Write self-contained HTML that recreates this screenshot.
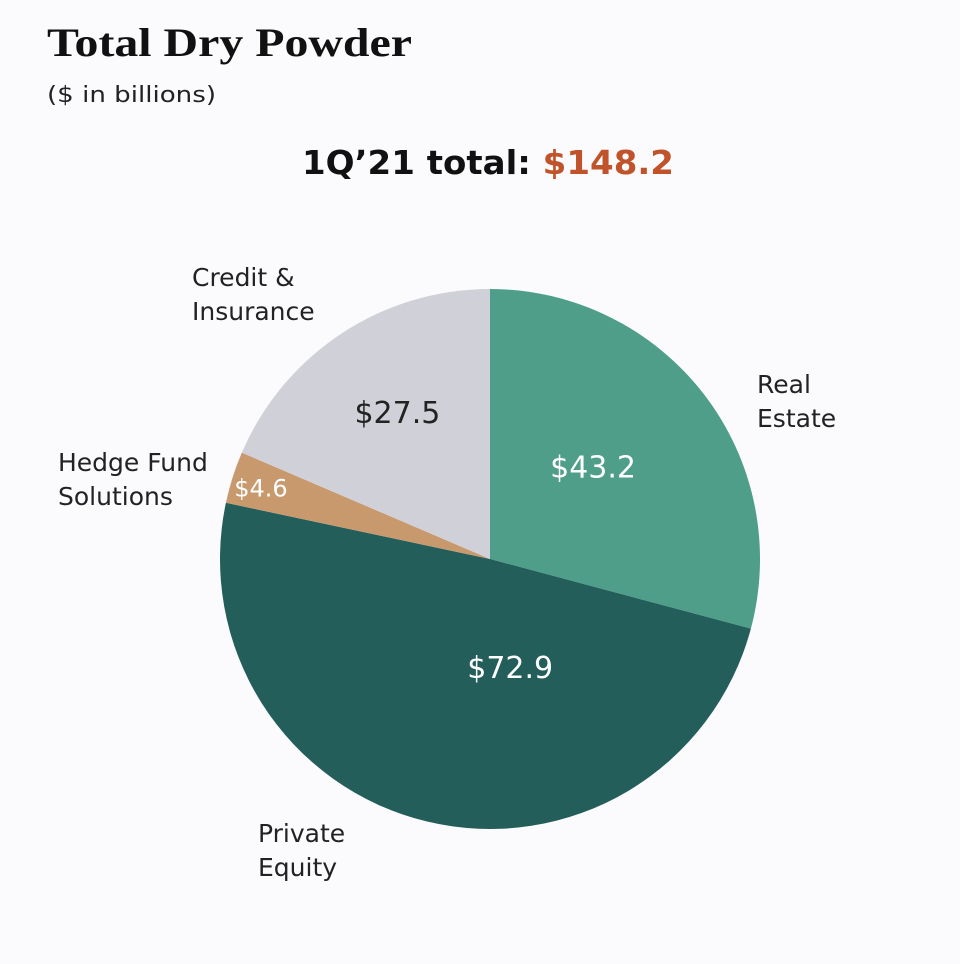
<!DOCTYPE html>
<html><head><meta charset="utf-8"><style>
html,body{margin:0;padding:0;background:#fbfafd;}
#root{position:relative;width:960px;height:964px;overflow:hidden;background:#fbfafd;}
</style></head><body>
<div id="root">
<svg id="chart" width="960" height="964">
<text x="47" y="56" font-family="Liberation Serif, serif" font-weight="bold" font-size="40" textLength="365" lengthAdjust="spacingAndGlyphs" fill="#111">Total Dry Powder</text>
<text x="47" y="102" font-family="DejaVu Sans, sans-serif" font-size="22" textLength="169" lengthAdjust="spacingAndGlyphs" fill="#222">($ in billions)</text>
<text x="302" y="174" font-family="DejaVu Sans, sans-serif" font-weight="bold" font-size="33" textLength="372" lengthAdjust="spacingAndGlyphs" fill="#111">1Q’21 total: <tspan fill="#c0532a">$148.2</tspan></text>
<g id="slices"></g>
<g id="labels" font-family="DejaVu Sans, sans-serif" font-size="25" fill="#222"></g>
</svg>
</div>
<script>
const categories = ["Real Estate","Private Equity","Hedge Fund Solutions","Credit & Insurance"];
const values = [43.2, 72.9, 4.6, 27.5];
const valueLabels = ["$43.2","$72.9","$4.6","$27.5"];
const colors = ["#4e9e8a","#235e5a","#c9996e","#d0d1d8"];
const valueColors = ["#fff","#fff","#fff","#222"];
const catLines = [["Real","Estate"],["Private","Equity"],["Hedge Fund","Solutions"],["Credit &","Insurance"]];
const catPos = [[757,393],[258,842],[58,471],[192,286]];
const labelR = [0.51,0.41,0.89,0.64];
const labelDA = [-4,-24,0,1];
const cx=490, cy=559, R=270;
const ns="http://www.w3.org/2000/svg";
const total = values.reduce((a,b)=>a+b,0);
function pt(a,r){return [cx+r*Math.sin(a), cy-r*Math.cos(a)];}
const sg=document.getElementById('slices'), lg=document.getElementById('labels');
let acc=0;
values.forEach((v,i)=>{
  const a0=acc/total*2*Math.PI; acc+=v; const a1=acc/total*2*Math.PI;
  const p0=pt(a0,R), p1=pt(a1,R);
  const large=(a1-a0)>Math.PI?1:0;
  const p=document.createElementNS(ns,'path');
  p.setAttribute('d',`M${cx},${cy}L${p0[0]},${p0[1]}A${R},${R} 0 ${large} 1 ${p1[0]},${p1[1]}Z`);
  p.setAttribute('fill',colors[i]);
  
  
  sg.appendChild(p);
  const am=(a0+a1)/2+labelDA[i]*Math.PI/180;
  const q=pt(am,R*labelR[i]);
  const t=document.createElementNS(ns,'text');
  t.setAttribute('x',q[0]); t.setAttribute('y',q[1]+10);
  t.setAttribute('text-anchor','middle');
  t.setAttribute('font-size', v/total<0.05 ? '24':'30');
  t.setAttribute('fill',valueColors[i]);
  t.textContent=valueLabels[i];
  
  
  lg.appendChild(t);
  const c=document.createElementNS(ns,'text');
  c.setAttribute('x',catPos[i][0]); c.setAttribute('y',catPos[i][1]);
  
  
  catLines[i].forEach((l,j)=>{const s=document.createElementNS(ns,'tspan');s.setAttribute('x',catPos[i][0]);s.setAttribute('dy',j?34:0);s.textContent=l;c.appendChild(s);});
  lg.appendChild(c);
});
</script>
</body></html>
